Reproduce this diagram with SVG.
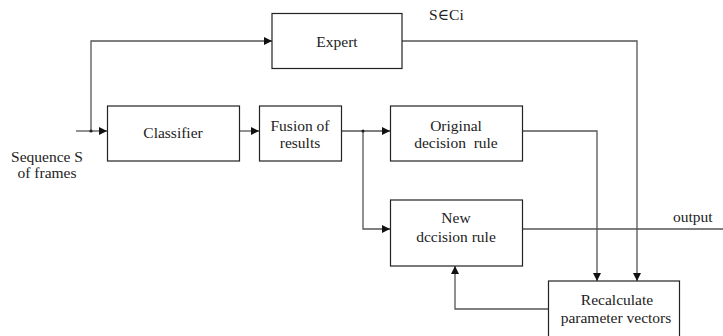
<svg xmlns="http://www.w3.org/2000/svg" width="723" height="336" viewBox="0 0 723 336">
<style>
.box{fill:#fff;stroke:#222;stroke-width:1.2}
.ln{fill:none;stroke:#555;stroke-width:1.3}
text{font-family:"Liberation Serif",Tinos,"Times New Roman",Times,"Nimbus Roman","DejaVu Serif",serif;font-size:15.5px;fill:#222}
.c{text-anchor:middle}
</style>
<defs>
<marker id="ar" viewBox="0 0 10 10" refX="10" refY="5" markerWidth="8" markerHeight="8" markerUnits="userSpaceOnUse" orient="auto">
<path d="M0,0 L10,5 L0,10 z" fill="#111"/>
</marker>
</defs>
<g id="connectors">
<path class="ln" d="M76,131 H107" marker-end="url(#ar)"/>
<path class="ln" d="M91,131 V41 H272" marker-end="url(#ar)"/>
<path class="ln" d="M239,131 H259" marker-end="url(#ar)"/>
<path class="ln" d="M341,131 H390" marker-end="url(#ar)"/>
<path class="ln" d="M363,131 V229 H390" marker-end="url(#ar)"/>
<path class="ln" d="M402,41 H637 V281" marker-end="url(#ar)"/>
<path class="ln" d="M522,131 H597 V281" marker-end="url(#ar)"/>
<path class="ln" d="M522,229 H723"/>
<path class="ln" d="M548,309 H455 V266" marker-end="url(#ar)"/>
<circle cx="91" cy="131" r="1.6" fill="#222"/>
<circle cx="363" cy="131" r="1.6" fill="#222"/>
</g>
<g id="expert">
<rect class="box" x="272" y="13.5" width="130" height="55"/>
<text class="c" x="337" y="47">Expert</text>
</g>
<g id="classifier">
<rect class="box" x="107.5" y="106" width="132" height="55"/>
<text class="c" x="173" y="138">Classifier</text>
</g>
<g id="fusion">
<rect class="box" x="259.5" y="106" width="82" height="55"/>
<text class="c" x="300" y="131">Fusion of</text>
<text class="c" x="300" y="148">results</text>
</g>
<g id="original">
<rect class="box" x="390.5" y="106" width="132" height="55"/>
<text class="c" x="456" y="131">Original</text>
<text class="c" x="456" y="148" xml:space="preserve">decision  rule</text>
</g>
<g id="new">
<rect class="box" x="390.5" y="200" width="132" height="66"/>
<text class="c" x="456" y="223">New</text>
<text class="c" x="456" y="242">dccision rule</text>
</g>
<g id="recalculate">
<rect class="box" x="548.5" y="281" width="131" height="60"/>
<text class="c" x="617" y="305">Recalculate</text>
<text class="c" x="616" y="323">parameter vectors</text>
</g>
<g id="labels">
<text class="c" x="47" y="162">Sequence S</text>
<text class="c" x="47" y="178">of frames</text>
<text x="429" y="20">S∈Ci</text>
<text x="673" y="222">output</text>
</g>
</svg>
